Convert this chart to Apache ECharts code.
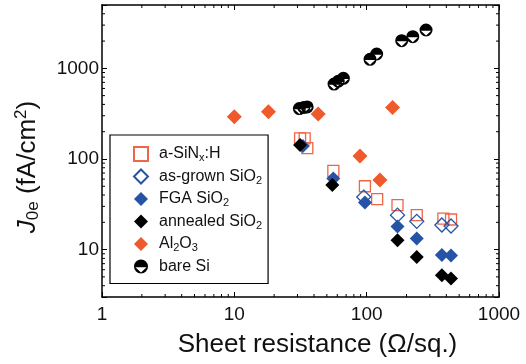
<!DOCTYPE html>
<html>
<head>
<meta charset="utf-8">
<script src="https://cdn.jsdelivr.net/npm/echarts@6/dist/echarts.min.js"></script>
<style>
  html, body { margin: 0; padding: 0; background: #fff; }
  #chart { width: 526px; height: 364px; }
</style>
</head>
<body>
<div id="chart"></div>
<script>
// [sheet resistance (Ohm/sq.), J0e (fA/cm2)]
var sinx = [[31.4, 169], [34, 169], [35.6, 132], [56, 74], [97, 50], [120, 36], [171, 31], [239, 24], [380, 22], [434, 21.5]];
var asGrown = [[95, 38], [171, 24], [239, 20.5], [370, 18.7], [434, 18.2]];
var fga = [[33, 139], [56, 61], [97, 33], [171, 18], [239, 13.3], [370, 8.7], [434, 8.6]];
var annealed = [[31.4, 143], [55, 51.5], [171, 12.7], [239, 8.3], [370, 5.2], [434, 4.8]];
var al2o3 = [[10, 292], [18.1, 332], [43, 313], [89, 108], [126, 58.5], [157, 371]];
var bareSi = [[31, 360], [33.5, 370], [35.5, 375], [56.7, 671], [61, 720], [66.7, 776], [106, 1258], [119, 1440], [184, 2018], [223, 2235], [281, 2650]];

var xTickLabels = [1, 10, 100, 1000];
var yTickLabels = [10, 100, 1000];

var FONT = 'Liberation Sans';
var ORANGE = '#ef5a2c';
var BLUE = '#2553a5';
var halfCircle = 'path://M0,-10A10,10,0,1,1,0,10A10,10,0,1,1,0,-10ZM-8,1L0,8.5L8,1Z';

var myChart = echarts.init(document.getElementById('chart'));

function tickLabel(list) {
  return function (v) {
    for (var i = 0; i < list.length; i++) {
      if (Math.abs(v - list[i]) / list[i] < 1e-6) return String(list[i]);
    }
    return '';
  };
}

var frameAxis = {
  type: 'log',
  logBase: 10,
  axisLine: { show: true, lineStyle: { color: '#000', width: 1.5 } },
  axisTick: { show: true, inside: true, length: 5, lineStyle: { color: '#000', width: 1 } },
  splitLine: { show: false }
};

var option = {
  animation: false,
  backgroundColor: '#fff',
  textStyle: { fontFamily: FONT },
  grid: { left: 102, right: 27, top: 5, bottom: 67, outerBoundsMode: 'none' },
  xAxis: [
    Object.assign({}, frameAxis, {
      min: 1, max: 1000, position: 'bottom',
      axisLabel: { formatter: tickLabel(xTickLabels), fontSize: 19, color: '#111', margin: 8, fontFamily: FONT },
      name: 'Sheet resistance (\u03a9/sq.)',
      nameLocation: 'middle', nameGap: 35,
      nameTextStyle: { fontSize: 26, color: '#111', fontFamily: FONT, padding: [0, 0, 0, 34] }
    }),
    Object.assign({}, frameAxis, {
      min: 1, max: 1000, position: 'top', axisLabel: { show: false }
    })
  ],
  yAxis: [
    Object.assign({}, frameAxis, {
      min: 3, max: 5000, position: 'left',
      axisLabel: { formatter: tickLabel(yTickLabels), fontSize: 19, color: '#111', margin: 3, fontFamily: FONT },
      name: '{it|J}{sub|0e} (fA/cm{sup|2})',
      nameLocation: 'middle', nameGap: 60,
      nameTextStyle: {
        fontSize: 26, color: '#111', fontFamily: FONT, padding: [0, 32, 0, 0],
        rich: {
          it: { fontSize: 26, fontStyle: 'italic', color: '#111', fontFamily: FONT },
          sub: { fontSize: 17, color: '#111', fontFamily: FONT, verticalAlign: 'bottom', padding: [12, 0, 0, 0] },
          sup: { fontSize: 17, color: '#111', fontFamily: FONT, verticalAlign: 'top', padding: [0, 0, 10, 0] }
        }
      }
    }),
    Object.assign({}, frameAxis, {
      min: 3, max: 5000, position: 'right', axisLabel: { show: false }
    })
  ],
  legend: {
    left: 110, top: 135,
    orient: 'vertical',
    backgroundColor: '#fff',
    borderColor: '#000', borderWidth: 1.2,
    padding: [11, 6, 9, 23],
    itemWidth: 14, itemHeight: 14, itemGap: 5,
    symbolKeepAspect: true,
    textStyle: {
      fontSize: 16, color: '#111', fontFamily: FONT, padding: [0, 0, 0, 6],
      rich: {
        sub: { fontSize: 11, color: '#111', fontFamily: FONT, verticalAlign: 'bottom', padding: [8, 0, 0, 0] }
      }
    },
    formatter: function (name) {
      return {
        'a-SiNx:H': 'a-SiN{sub|x}:H',
        'as-grown SiO2': 'as-grown SiO{sub|2}',
        'FGA SiO2': 'FGA SiO{sub|2}',
        'annealed SiO2': 'annealed SiO{sub|2}',
        'Al2O3': 'Al{sub|2}O{sub|3}',
        'bare Si': 'bare Si'
      }[name];
    },
    data: ['a-SiNx:H', 'as-grown SiO2', 'FGA SiO2', 'annealed SiO2', 'Al2O3', 'bare Si']
  },
  series: [
    {
      name: 'bare Si', type: 'scatter', data: bareSi, symbol: halfCircle, symbolSize: 13,
      itemStyle: { color: '#000', opacity: 1 }, z: 2
    },
    {
      name: 'Al2O3', type: 'scatter', data: al2o3, symbol: 'diamond', symbolSize: 15,
      itemStyle: { color: ORANGE, opacity: 1 }, z: 2
    },
    {
      name: 'a-SiNx:H', type: 'scatter', data: sinx, symbol: 'rect', symbolSize: 11,
      itemStyle: { color: 'rgba(255,255,255,0)', borderColor: '#ef6548', borderWidth: 1.3, opacity: 1 }, z: 3
    },
    {
      name: 'as-grown SiO2', type: 'scatter', data: asGrown, symbol: 'diamond', symbolSize: 14,
      itemStyle: { color: 'rgba(255,255,255,0)', borderColor: BLUE, borderWidth: 1.3, opacity: 1 }, z: 4
    },
    {
      name: 'FGA SiO2', type: 'scatter', data: fga, symbol: 'diamond', symbolSize: 14,
      itemStyle: { color: BLUE, opacity: 1 }, z: 5
    },
    {
      name: 'annealed SiO2', type: 'scatter', data: annealed, symbol: 'diamond', symbolSize: 14,
      itemStyle: { color: '#000', opacity: 1 }, z: 6
    }
  ]
};

myChart.setOption(option);

// log minor ticks on all four sides, placed through the axis scales
var lo = myChart.convertToPixel({ gridIndex: 0 }, [1, 3]);
var hi = myChart.convertToPixel({ gridIndex: 0 }, [1000, 5000]);
var minor = [];
function addTick(x1, y1, x2, y2) {
  minor.push({ type: 'line', silent: true, z: 10, shape: { x1: x1, y1: y1, x2: x2, y2: y2 }, style: { stroke: '#000', lineWidth: 1 } });
}
[1, 10, 100].forEach(function (d) {
  for (var m = 2; m <= 9; m++) {
    var px = myChart.convertToPixel({ gridIndex: 0 }, [m * d, 100])[0];
    addTick(px, lo[1], px, lo[1] - 3);
    addTick(px, hi[1], px, hi[1] + 3);
  }
});
[1, 10, 100, 1000].forEach(function (d) {
  for (var m = 2; m <= 9; m++) {
    var v = m * d;
    if (v <= 3 || v >= 5000) continue;
    var py = myChart.convertToPixel({ gridIndex: 0 }, [10, v])[1];
    addTick(lo[0], py, lo[0] + 3, py);
    addTick(hi[0], py, hi[0] - 3, py);
  }
});
myChart.setOption({ graphic: minor });
</script>
</body>
</html>
